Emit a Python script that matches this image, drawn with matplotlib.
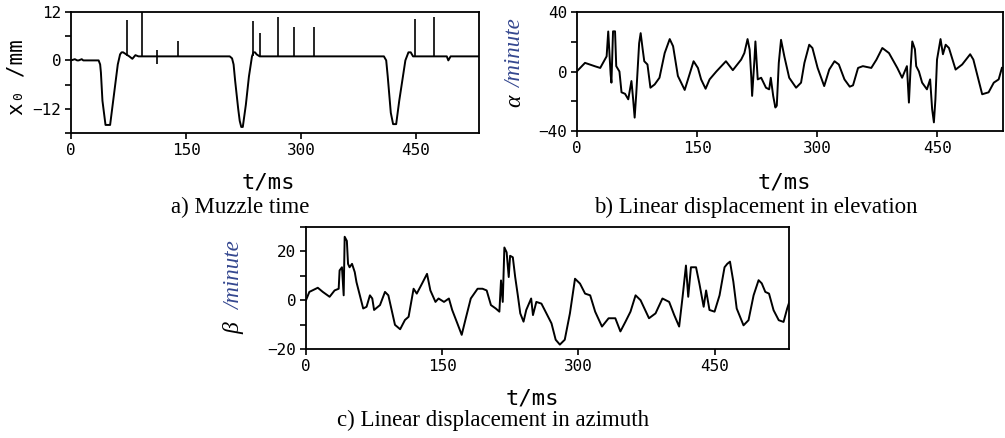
import matplotlib.pyplot as plt
import numpy as np

W, H = 1005, 438
mono = 'DejaVu Sans Mono'
serif = 'Liberation Serif'

# a) muzzle time, x0 / mm
a_t = [0, 5, 8, 10, 14, 16, 20, 25, 30, 36, 38, 39, 41, 43, 45, 51, 53, 57, 61, 64, 66, 68,
       72, 76, 80, 84, 88, 95, 100, 110, 120, 130, 140, 150, 160, 170, 180, 190, 200, 207,
       210, 212, 214, 218, 220, 222, 224, 228, 232, 236, 238, 240, 242, 246, 250, 260, 270,
       280, 290, 300, 310, 320, 330, 340, 350, 360, 370, 380, 390, 400, 408, 411, 413, 417,
       420, 424, 428, 432, 436, 440, 443, 446, 450, 460, 470, 480, 490, 492, 495, 500, 510,
       520, 532]
a_x = [0, 0.3, 0, 0, 0.3, 0, 0, 0, 0, 0, -1, -3, -10, -13, -16, -16, -13, -7, -1, 1.5, 2, 2,
       1.5, 1, 0.4, 1.3, 1, 1, 1, 1, 1, 1, 1, 1, 1, 1, 1, 1, 1, 1,
       0.5, -1, -5, -12, -15, -16.5, -16.5, -11, -4, 1, 2, 2, 1.5, 1, 1, 1, 1,
       1, 1, 1, 1, 1, 1, 1, 1, 1, 1, 1, 1, 1, 1, 0, -4, -13,
       -15.8, -15.8, -10, -5, 0, 2, 2, 1, 1, 1, 1, 1, 1, 0, 1, 1, 1,
       1, 1]
spike_t = [73, 92.6, 112, 140, 237, 246, 269.6, 291, 317, 448, 473]
spike_top = [10, 12, 2.7, 4.8, 9.75, 6.7, 10.8, 8.3, 8.3, 10.25, 10.8]
spike_bot = [1, 1, -1, 1, 1, 1, 1, 1, 1, 1, 1]

# b) elevation, alpha / minute
b_t = [0, 10, 22.5, 29, 37, 39, 42, 43, 45, 47.5, 49, 53, 55.6, 60, 64, 68, 70, 72, 74, 77.6,
       79.5, 82, 84, 88, 91.7, 97, 103, 109.5, 115.8, 120, 126, 134.5, 138.6, 145.6, 151, 155,
       160.6, 165.6, 174, 186, 194.6, 205, 209, 213, 215.6, 217.7, 218.7, 221.6, 222.8, 225.7,
       230, 236, 240, 242, 245, 247.7, 249.5, 252, 254.8, 259, 265, 273.6, 279.8, 284, 290,
       294, 300.5, 308.7, 315, 321.6, 327, 334, 340.6, 344.7, 351, 357, 367.5, 374, 381.3,
       389.6, 400, 406, 412, 414.5, 416.5, 418.7, 422, 423.6, 427, 431, 437, 441, 443.5,
       445.7, 447.6, 449.6, 454, 457, 460.4, 464.5, 472.8, 481, 491, 495, 506, 514, 520.5,
       526.6, 530.6]
b_a = [0.2, 5.8, 3.5, 2.4, 10.2, 26.9, -2, -7.5, 27, 27, 3.6, 0, -14, -15, -18.7, -6.4, -18,
       -31, -15, 19, 25.8, 15, 6.9, 4.7, -10.9, -8.7, -4.2, 12.4, 21.8, 17, -3, -12.4, -5.3,
       6.9, 2.4, -5.3, -11.6, -5.3, 0, 6.9, 0.9, 8, 12.4, 21.8, 14.7, -4.2, -16.4, 8, 20.2,
       -5.3, -4.2, -10.9, -12, -4.2, -16.4, -24.2, -23, 5.8, 21.3, 10, -4.2, -10.9, -7.5, 5.8,
       18, 15.8, 2.4, -9.8, 1.3, 6.9, 4.7, -5.3, -10.2, -9.3, 2.4, 3.6, 2.4, 8, 15.8, 12.4,
       2.4, -4.2, 3.6, -20.9, 1.3, 20.2, 15, 3.6, 0, -7.5, -12, -5.3, -25.3, -34.2, -18.7,
       8, 21.8, 11.6, 18, 15.8, 1.3, 4.7, 11.6, 8, -15.3, -14, -7.5, -5.3, 2.4]

# c) azimuth, beta / minute
c_t = [0, 3.7, 13, 18.5, 26, 31.5, 36, 37, 39.6, 41.5, 42.6, 45, 46.3, 48, 50.7, 53.7, 55.6,
       59.3, 63, 66.7, 70.4, 73, 75, 81.5, 87, 90.7, 98, 103.7, 109, 113, 118.5, 122, 127.8,
       133.3, 137, 142.6, 146, 152, 157.4, 161, 166.7, 171.5, 176, 181.5, 189, 194.4, 199,
       203.7, 209, 213, 214.8, 216.7, 218.5, 221, 223.3, 224.8, 227.8, 230.4, 233.3, 236,
       239.6, 242.6, 248, 250, 253.7, 259.3, 264.8, 270.4, 275, 279.6, 285, 290.7, 296.3,
       301.8, 307.4, 313, 318.5, 326, 333.3, 340.7, 346.3, 351.9, 357.4, 363, 368.5, 377.8,
       385, 392.6, 400, 405.6, 411, 414.8, 418.5, 421, 424, 429.6, 433.3, 438, 440.7, 444.4,
       450, 455.5, 461, 464, 467, 470.7, 474.4, 481.9, 487.4, 493, 498.5, 502, 505.9, 510,
       515, 520.7, 526, 530, 533]
c_b = [0, 3.4, 5.1, 3.4, 1.4, 4, 4.7, 12.2, 13.5, 2, 26, 24.3, 14.9, 13.5, 14.9, 11.5, 7.4,
       2, -3.4, -2.7, 2, 0.7, -4, -2, 3.4, 2, -10.1, -11.9, -8.1, -6.8, 4.7, 2.7, 6.8,
       10.8, 4, -0.7, 0.7, -0.7, 0.7, -4, -9.5, -14.2, -7.4, 0.7, 4.7, 4.7, 4,
       -2, -3.4, -4.7, 8.1, -0.7, 21.6, 19.6, 9.5, 18.2, 17.6, 9.5, 2, -5.4,
       -8.8, -4, 0.7, -6.1, -0.7, -1.4, -5.4, -9.5, -16.2, -18.2, -16.2, -5.4, 8.8,
       6.8, 2.7, 2, -4.7, -10.8, -7.4, -7.4, -12.8, -8.8, -4.7, 2, 0, -7.4,
       -5.4, 0.7, -0.7, -6.1, -10.8, 1.4, 14.2, 1.4, 13.5, 13.5, 6.8, -2.7, 4, -4,
       -4.7, 2, 13.5, 14.9, 15.8, 7.6, -3.4, -10.3, -8.2, 2, 8.2, 6.9, 3.4, 2.7,
       -4.1, -8.2, -8.9, -3.4, 0]

xticks = [0, 150, 300, 450]


def box(l, t, r, b):
    return [l / W, 1 - b / H, (r - l) / W, (b - t) / H]


def style(ax, ylim, major, minor):
    ax.set_xlim(0, 532)
    ax.set_ylim(*ylim)
    ax.set_xticks(xticks)
    ax.set_yticks(major)
    ax.set_yticks(minor, minor=True)
    ax.tick_params(which='both', direction='out', length=4, width=1.2, top=False, right=False)
    ax.tick_params(labelsize=11.5, pad=3)
    for lab in ax.get_xticklabels() + ax.get_yticklabels():
        lab.set_family(mono)
    for s in ax.spines.values():
        s.set_linewidth(1.3)


fig = plt.figure(figsize=(W / 100, H / 100), dpi=100)

ax1 = fig.add_axes(box(71, 12, 479, 133))
ax1.plot(a_t, a_x, color='black', lw=1.4)
ax1.vlines(spike_t, spike_bot, spike_top, color='black', lw=1.2)
style(ax1, (-18, 12), [-12, 0, 12], [-18, -6, 6])

ax2 = fig.add_axes(box(577, 12, 1003, 131))
ax2.plot(b_t, b_a, color='black', lw=1.4)
style(ax2, (-40, 40), [-40, 0, 40], [-20, 20])

ax3 = fig.add_axes(box(306, 227, 789, 349))
ax3.plot(c_t, c_b, color='black', lw=1.4)
style(ax3, (-20, 30), [-20, 0, 20], [-10, 10, 30])


def ftext(x, y, s, **kw):
    fig.text(x / W, 1 - y / H, s, ha='center', va='center', **kw)


# x labels
ftext(268, 183, 't/ms', family=mono, fontsize=16)
ftext(784, 182, 't/ms', family=mono, fontsize=16)
ftext(532, 399, 't/ms', family=mono, fontsize=16)

# y labels
ftext(17, 77, 'x\u2080 /mm', family=mono, fontsize=15, rotation=90)
navy = '#34478f'
ftext(515, 101, '\u03b1', family=serif, style='italic', fontsize=17, rotation=90)
ftext(516, 54, '/minute', family=serif, style='italic', fontsize=16.5, rotation=90, color=navy)
ftext(234, 328, '\u03b2', family=serif, style='italic', fontsize=17, rotation=90)
ftext(235, 276, '/minute', family=serif, style='italic', fontsize=16.5, rotation=90, color=navy)

# captions
ftext(240, 207, 'a) Muzzle time', family=serif, fontsize=16.5)
ftext(756, 207, 'b) Linear displacement in elevation', family=serif, fontsize=16.5)
ftext(493, 420, 'c) Linear displacement in azimuth', family=serif, fontsize=16.5)

fig.savefig('out.png', dpi=100)
